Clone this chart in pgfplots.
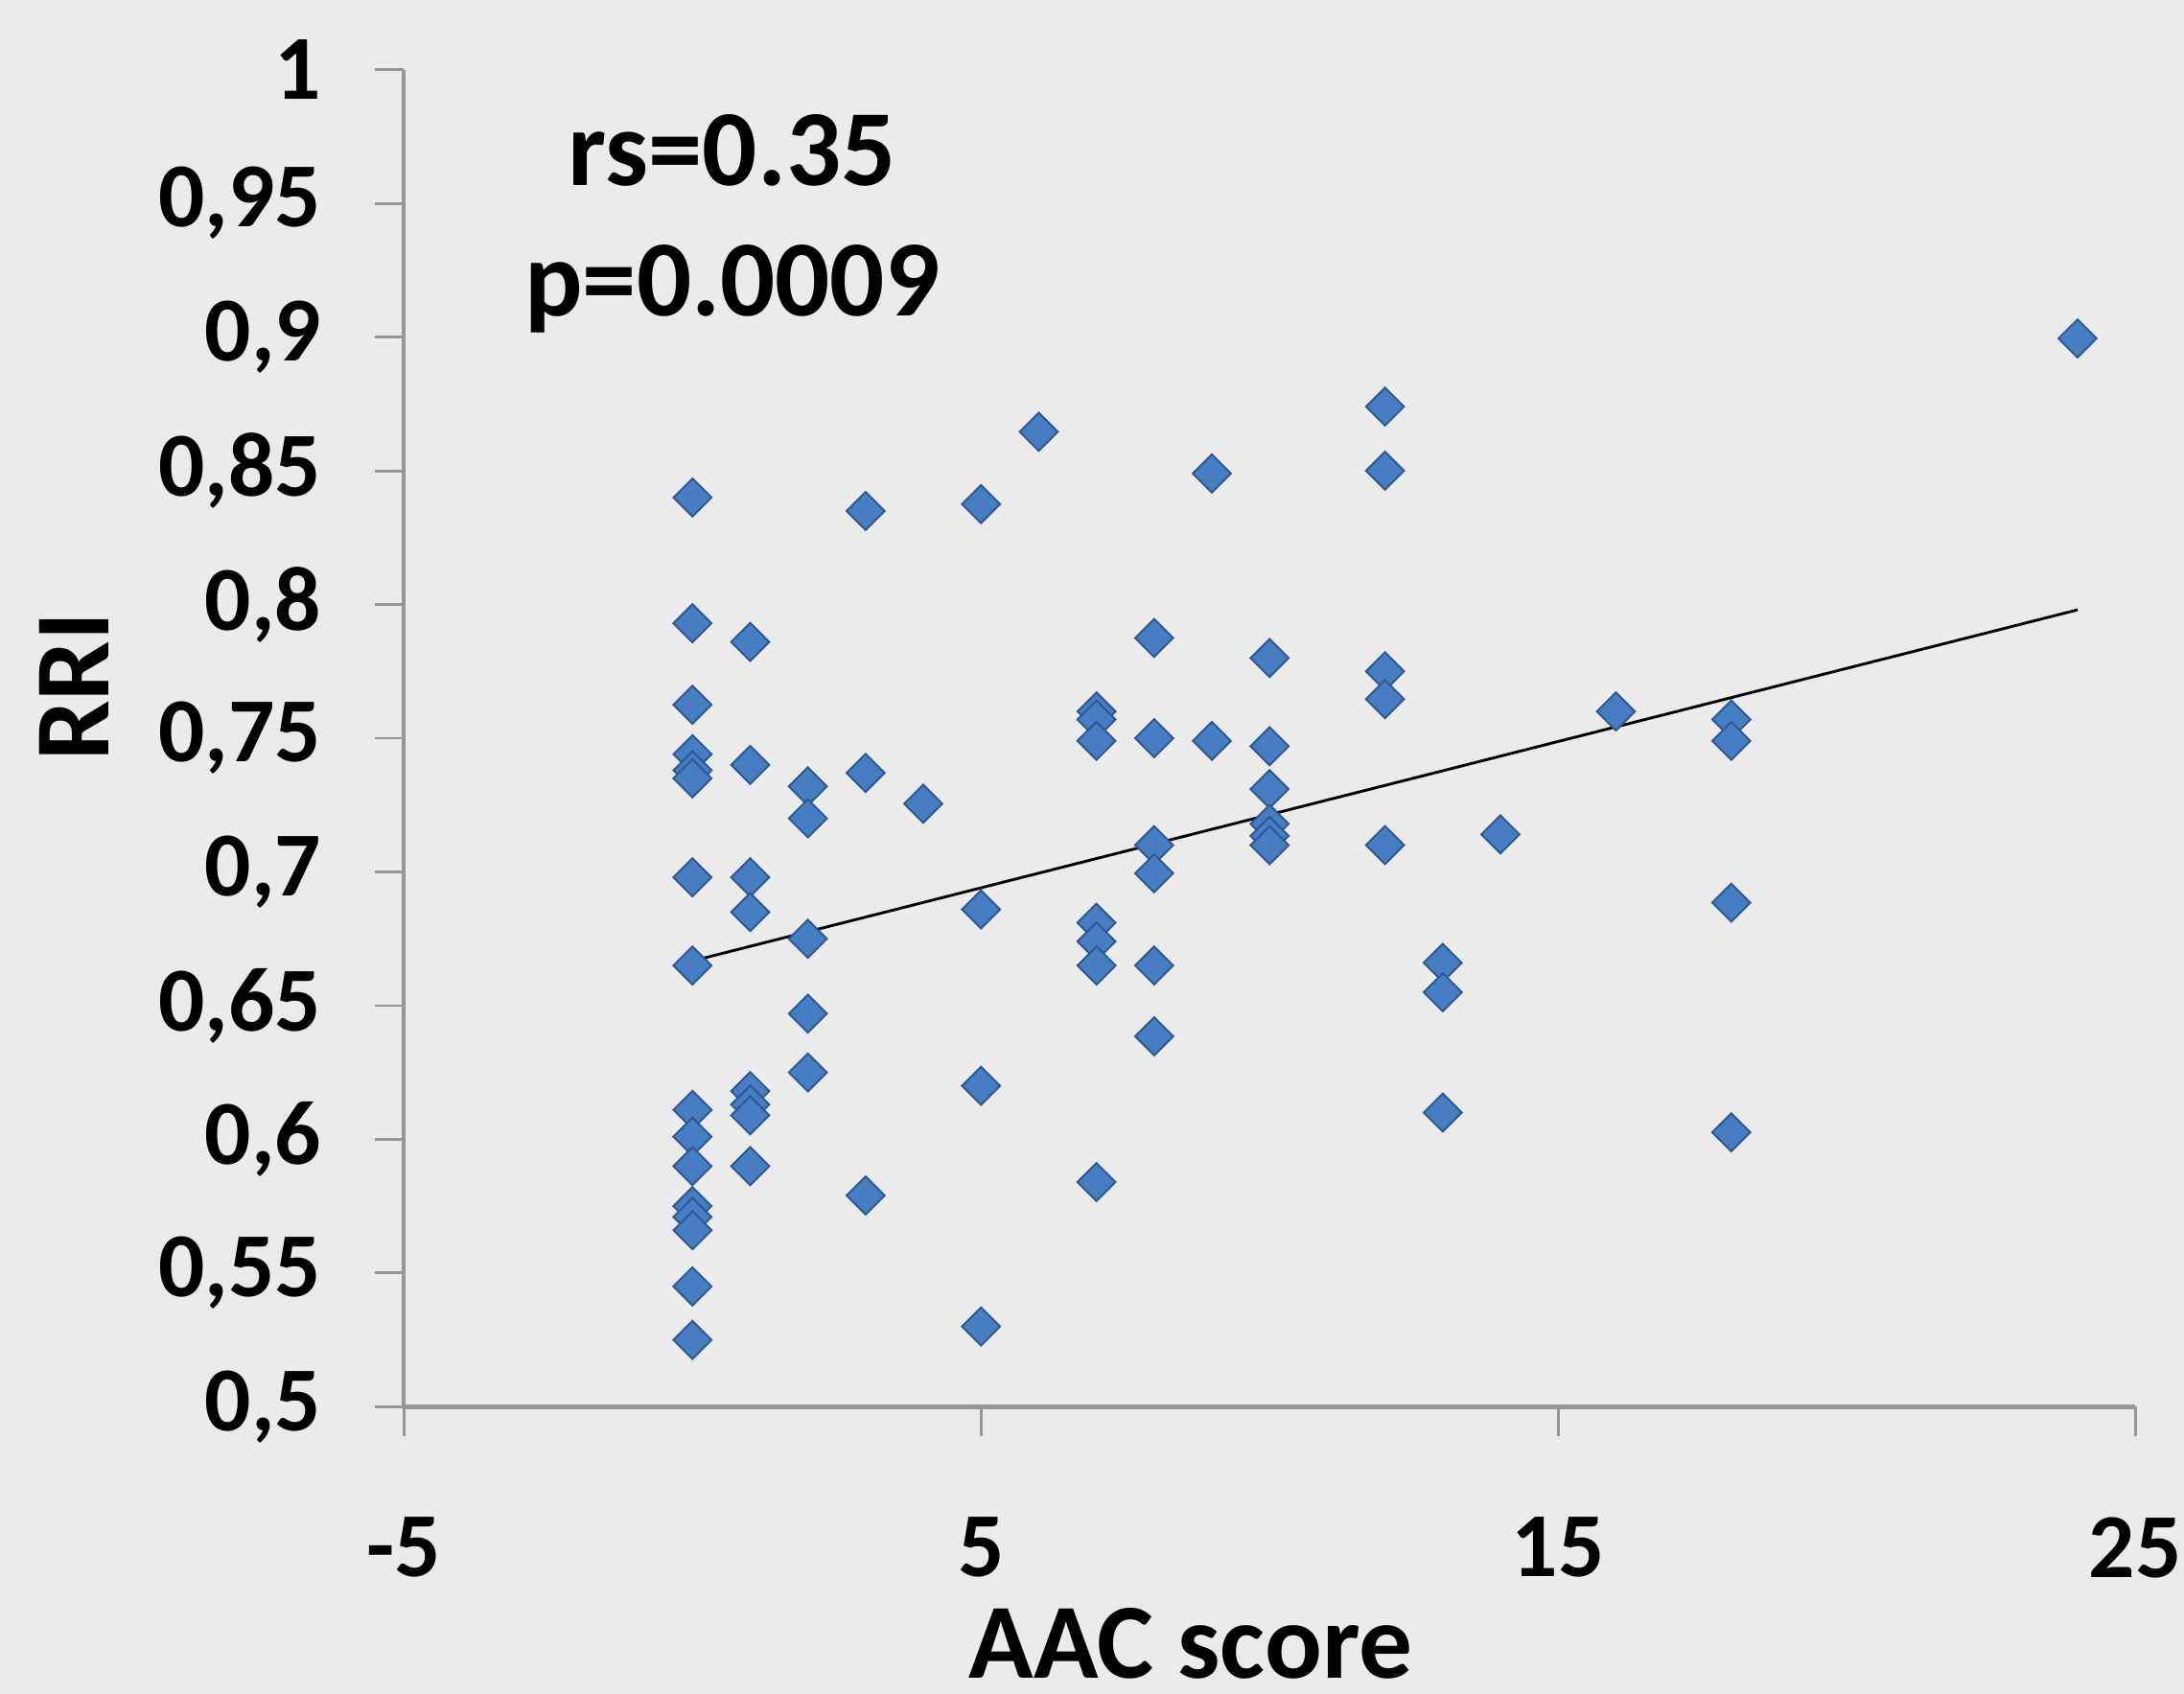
\documentclass[border=0pt]{standalone}
\usepackage{fontspec}
\setmainfont{Carlito}
\usepackage{pgfplots}
\pgfplotsset{compat=1.18}
\definecolor{bg}{RGB}{235,235,235}
\definecolor{mk}{RGB}{70,125,195}
\definecolor{mkd}{RGB}{45,88,145}
\definecolor{axc}{RGB}{150,150,150}
\begin{document}
\begin{tikzpicture}
\fill[bg] (-87pt,-61.8pt) rectangle (383.4pt,303pt);
\path[use as bounding box] (-87pt,-61.8pt) rectangle (383.4pt,303pt);
\begin{axis}[
  at={(0,0)}, anchor=south west,
  scale only axis, width=372.9pt, height=288pt,
  xmin=-5, xmax=25, ymin=0.5, ymax=1,
  axis lines*=left,
  axis line style={axc, line width=0.9pt},
  tick style={axc, line width=0.6pt},
  major tick length=6.3pt, tick align=outside,
  xtick={-5,5,15,25},
  ytick={0.5,0.55,0.6,0.65,0.7,0.75,0.8,0.85,0.9,0.95,1},
  /pgf/number format/assume math mode=true,
  /pgf/number format/use comma,
  /pgf/number format/fixed,
  /pgf/number format/precision=2,
  tick label style={font=\fontsize{19.7}{23}\selectfont\bfseries, text=black},
  yticklabel style={anchor=east, xshift=-8pt},
  xticklabel style={anchor=north, yshift=-14pt},
  xlabel={AAC score}, ylabel={RRI},
  label style={font=\fontsize{23}{27}\selectfont\bfseries, text=black},
  xlabel style={at={(axis description cs:0.4545,-0.203)}, anchor=base, inner sep=0pt},
  ylabel style={at={(axis description cs:-0.1706,0.5385)}, anchor=base, rotate=0},
  clip=false,
]
\addplot[only marks, mark=square*, mark size=2.9pt,
  mark options={rotate=45, fill=mk, draw=mkd, line width=0.4pt}]
coordinates {
(0,0.840) (0,0.793) (0,0.7625) (0,0.744) (0,0.738) (0,0.735) (0,0.698) (0,0.665)
(0,0.611) (0,0.601) (0,0.590) (0,0.575) (0,0.571) (0,0.566) (0,0.545) (0,0.525)
(1,0.786) (1,0.740) (1,0.698) (1,0.685) (1,0.618) (1,0.613) (1,0.609) (1,0.590)
(2,0.732) (2,0.720) (2,0.675) (2,0.647) (2,0.625)
(3,0.835) (3,0.737) (3,0.579)
(4,0.7255)
(5,0.8375) (5,0.686) (5,0.620) (5,0.530)
(6,0.8646)
(7,0.760) (7,0.757) (7,0.749) (7,0.681) (7,0.674) (7,0.665) (7,0.584)
(8,0.7875) (8,0.750) (8,0.710) (8,0.6995) (8,0.665) (8,0.6385)
(9,0.849) (9,0.749)
(10,0.780) (10,0.747) (10,0.731) (10,0.718) (10,0.7135) (10,0.710)
(12,0.874) (12,0.850) (12,0.775) (12,0.7646) (12,0.710)
(13,0.666) (13,0.655) (13,0.610)
(14,0.714)
(16,0.760)
(18,0.757) (18,0.749) (18,0.6885) (18,0.6026)
(24,0.8995)
};
\addplot[black, line width=0.6pt, no marks] coordinates {(0,0.6667) (24,0.798)};
\node[font=\fontsize{23.3}{27}\selectfont\bfseries, anchor=base] at (axis cs:0.69,0.9568) {rs=0.35};
\node[font=\fontsize{23.3}{27}\selectfont\bfseries, anchor=base] at (axis cs:0.69,0.9078) {p=0.0009};
\end{axis}
\end{tikzpicture}
\end{document}
